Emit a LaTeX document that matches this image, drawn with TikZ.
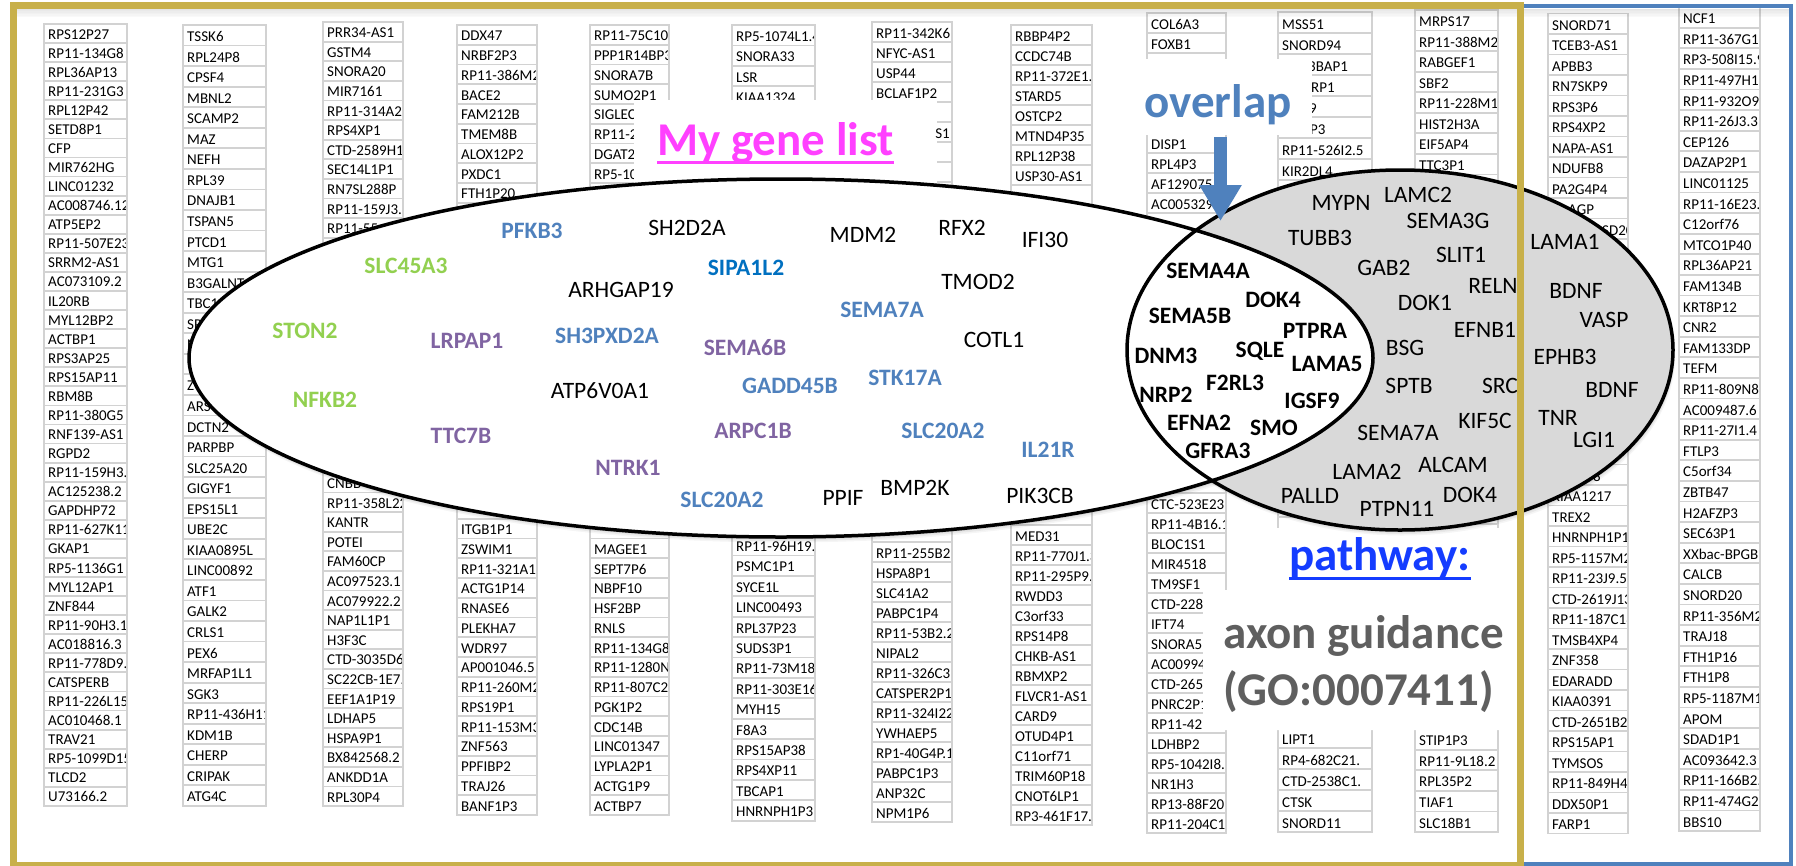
\documentclass[tikz,border=0pt]{standalone}
\usepackage{fontspec}
\setmainfont{Carlito}
\usetikzlibrary{arrows.meta}

\definecolor{goldF}{RGB}{200,176,74}
\definecolor{blueF}{RGB}{79,129,189}
\definecolor{cellG}{RGB}{210,210,210}
\definecolor{ellG}{RGB}{217,217,217}
\definecolor{greenT}{RGB}{146,208,80}
\definecolor{purpT}{RGB}{128,100,162}
\definecolor{blueT}{RGB}{79,129,189}
\definecolor{sipaT}{RGB}{0,112,192}
\definecolor{magT}{RGB}{255,64,255}
\definecolor{pathT}{RGB}{20,60,255}
\definecolor{axonT}{RGB}{95,95,95}

\tikzset{
  cellbox/.style={draw=cellG, line width=1.8pt},
  celltext/.style={anchor=base west, inner sep=0pt, font=\fontsize{15}{18}\selectfont},
  gene/.style={anchor=base, inner sep=0pt, font=\fontsize{23.5}{28}\selectfont},
  bgene/.style={anchor=base, inner sep=0pt, font=\fontsize{23.5}{28}\selectfont\bfseries},
  headline/.style={anchor=base west, inner sep=0pt, font=\fontsize{47}{56}\selectfont\bfseries},
  cover/.style={fill=white},
  ringline/.style={draw=black, line width=3.5pt},
}

% one spreadsheet column: id, left x, right x, top y, row pitch, entries
\newcommand{\genecol}[6]{%
  \foreach \g [count=\k from 0] in {#6} {
    \draw[cellbox] (#2,{#4+\k*#5}) rectangle (#3,{#4+(\k+1)*#5});
  }
  \begin{scope}
    \clip (#2+1,#4) rectangle (#3-1.2,900);
    \foreach \g [count=\k from 0] in {#6} {
      \node[celltext] (#1r\k) at (#2+4,{#4+(\k+1)*#5-4}) {\g};
    }
  \end{scope}
}

\begin{document}
\begin{tikzpicture}[x=1pt,y=-1pt]
\useasboundingbox (0,0) rectangle (1796,865);
\fill[white] (0,0) rectangle (1796,865);

% ---------------- gene columns ----------------
\genecol{c1}{44}{127}{24}{19.07}{RPS12P27, RP11-134G8, RPL36AP13, RP11-231G3, RPL12P42, SETD8P1, CFP, MIR762HG, LINC01232, AC008746.12, ATP5EP2, RP11-507E23, SRRM2-AS1, AC073109.2, IL20RB, MYL12BP2, ACTBP1, RPS3AP25, RPS15AP11, RBM8B, RP11-380G5, RNF139-AS1, RGPD2, RP11-159H3., AC125238.2, GAPDHP72, RP11-627K11, GKAP1, RP5-1136G1, MYL12AP1, ZNF844, RP11-90H3.1, AC018816.3, RP11-778D9., CATSPERB, RP11-226L15, AC010468.1, TRAV21, RP5-1099D15, TLCD2, U73166.2}

\genecol{c2}{183}{266}{25}{20.55}{TSSK6, RPL24P8, CPSF4, MBNL2, SCAMP2, MAZ, NEFH, RPL39, DNAJB1, TSPAN5, PTCD1, MTG1, B3GALNT, TBC1, SP, N, {}, Z, ARS, DCTN2, PARPBP, SLC25A20, GIGYF1, EPS15L1, UBE2C, KIAA0895L, LINC00892, ATF1, GALK2, CRLS1, PEX6, MRFAP1L1, SGK3, RP11-436H11, KDM1B, CHERP, CRIPAK, ATG4C}

\genecol{c3}{323}{403}{22}{19.6}{PRR34-AS1, GSTM4, SNORA20, MIR7161, RP11-314A20, RPS4XP1, CTD-2589H19, SEC14L1P1, RN7SL288P, RP11-159J3.1, RP11-55, {}, {}, {}, {}, {}, {}, {}, {}, {}, {}, {}, {}, CNBB, RP11-358L22, KANTR, POTEI, FAM60CP, AC097523.1, AC079922.2, NAP1L1P1, H3F3C, CTD-3035D6., SC22CB-1E7., EEF1A1P19, LDHAP5, HSPA9P1, BX842568.2, ANKDD1A, RPL30P4}

\genecol{c4}{457}{537}{25}{19.75}{DDX47, NRBF2P3, RP11-386M2, BACE2, FAM212B, TMEM8B, ALOX12P2, PXDC1, FTH1P20, {}, {}, {}, {}, {}, {}, {}, {}, {}, {}, {}, {}, {}, {}, {}, {}, ITGB1P1, ZSWIM1, RP11-321A17, ACTG1P14, RNASE6, PLEKHA7, WDR97, AP001046.5, RP11-260M2, RPS19P1, RP11-153M3, ZNF563, PPFIBP2, TRAJ26, BANF1P3}

\genecol{c5}{590}{669}{25}{19.75}{RP11-75C10., PPP1R14BP3, SNORA7B, SUMO2P1, SIGLEC, RP11-2, DGAT2, RP5-10, {}, {}, {}, {}, {}, {}, {}, {}, {}, {}, {}, {}, {}, {}, {}, {}, {}, {}, MAGEE1, SEPT7P6, NBPF10, HSF2BP, RNLS, RP11-134G8, RP11-1280N, RP11-807C20, PGK1P2, CDC14B, LINC01347, LYPLA2P1, ACTG1P9, ACTBP7}

\genecol{c6}{732}{815}{25}{20.4}{RP5-1074L1.4, SNORA33, LSR, KIAA1324, {}, {}, {}, {}, {}, {}, {}, {}, {}, {}, {}, {}, {}, {}, {}, {}, {}, {}, {}, {}, {}, RP11-96H19., PSMC1P1, SYCE1L, LINC00493, RPL37P23, SUDS3P1, RP11-73M18, RP11-303E16, MYH15, F8A3, RPS15AP38, RPS4XP11, TBCAP1, HNRNPH1P3}

\genecol{c7}{872}{952}{22}{20}{RP11-342K6., NFYC-AS1, USP44, BCLAF1P2, {}, {}, {}, {}, {}, {}, {}, {}, {}, {}, {}, {}, {}, {}, {}, {}, {}, {}, {}, {}, {}, {}, RP11-255B23, HSPA8P1, SLC41A2, PABPC1P4, RP11-53B2.2, NIPAL2, RP11-326C3., CATSPER2P1, RP11-324I22, YWHAEP5, RP1-40G4P.1, PABPC1P3, ANP32C, NPM1P6}

\genecol{c8}{1011}{1092}{25}{20}{RBBP4P2, CCDC74B, RP11-372E1., STARD5, OSTCP2, MTND4P35, RPL12P38, USP30-AS1, {}, {}, {}, {}, {}, {}, {}, {}, {}, {}, {}, {}, {}, {}, {}, {}, {}, MED31, RP11-770J1.3, RP11-295P9., RWDD3, C3orf33, RPS14P8, CHKB-AS1, RBMXP2, FLVCR1-AS1, CARD9, OTUD4P1, C11orf71, TRIM60P18, CNOT6LP1, RP3-461F17.}

\genecol{c9}{1147}{1226}{13}{20}{COL6A3, FOXB1, {}, {}, {}, {}, DISP1, RPL4P3, AF129075, AC005329., {}, {}, {}, {}, {}, {}, {}, {}, {}, {}, {}, {}, {}, {}, CTC-523E23., RP11-4B16.1, BLOC1S1, MIR4518, TM9SF1, CTD-2287, IFT74, SNORA5, AC00994, CTD-265, PNRC2P1, RP11-42, LDHBP2, RP5-1042I8.7, NR1H3, RP13-88F20., RP11-204C16}

\genecol{c10}{1278}{1372}{12}{21.03}{MSS51, SNORD94, {}, {}, {}, {}, RP11-526I2.5, KIR2DL4, {}, {}, {}, {}, {}, {}, {}, {}, {}, {}, {}, {}, {}, {}, {}, {}, {}, {}, {}, {}, {}, {}, {}, {}, {}, {}, LIPT1, RP4-682C21., CTD-2538C1., CTSK, SNORD11}

\genecol{c11}{1415}{1498}{10}{20.55}{MRPS17, RP11-388M2, RABGEF1, SBF2, RP11-228M1, HIST2H3A, EIF5AP4, TTC3P1, {}, {}, {}, {}, {}, {}, {}, {}, {}, {}, {}, {}, {}, {}, {}, {}, {}, {}, {}, {}, {}, {}, {}, {}, {}, {}, {}, STIP1P3, RP11-9L18.2, RPL35P2, TIAF1, SLC18B1}

\genecol{c12}{1548}{1628}{13.5}{20.5}{SNORD71, TCEB3-AS1, APBB3, RN7SKP9, RPS3P6, RPS4XP2, NAPA-AS1, NDUFB8, PA2G4P4, {\hspace{16pt}AGP}, {\hspace{50pt}SD20}, {}, {}, {}, {}, {}, {}, {}, {}, {}, {}, {}, {\hspace{41pt}8}, KIAA1217, TREX2, HNRNPH1P1, RP5-1157M2, RP11-23J9.5, CTD-2619J13, RP11-187C18, TMSB4XP4, ZNF358, EDARADD, KIAA0391, CTD-2651B20, RPS15AP1, TYMSOS, RP11-849H4., DDX50P1, FARP1}

\genecol{c13}{1679}{1760}{7}{20.6}{NCF1, RP11-367G1, RP3-508I15.9, RP11-497H17, RP11-932O9, RP11-26J3.3, CEP126, DAZAP2P1, LINC01125, RP11-16E23., C12orf76, MTCO1P40, RPL36AP21, FAM134B, KRT8P12, CNR2, FAM133DP, TEFM, RP11-809N8, AC009487.6, RP11-27I1.4, FTLP3, C5orf34, ZBTB47, H2AFZP3, SEC63P1, XXbac-BPGB, CALCB, SNORD20, RP11-356M2, TRAJ18, FTH1P16, FTH1P8, RP5-1187M1, APOM, SDAD1P1, AC093642.3, RP11-166B2., RP11-474G2., BBS10}

% ---------------- white boxes behind the headings ----------------
\fill[cover] (634,100) rectangle (937,200);
\fill[cover] (1143,59) rectangle (1312,135);
\fill[cover] (1235,528) -- (1512,528) -- (1512,730) -- (1203,730) -- (1203,590) -- (1235,590) -- cycle;

% cell text left visible beside the boxes
\node[celltext, anchor=base east] (c7frag) at (950,138) {S1};
\begin{scope}
  \clip (1312,50) rectangle (1370,140);
  \node[celltext] (c10fa) at (1308,71.1) {3BAP1};
  \node[celltext] (c10fb) at (1311,92.1) {RP1};
  \node[celltext] (c10fc) at (1309,113.2) {9};
  \node[celltext] (c10fd) at (1310,134.2) {P3};
\end{scope}

% headings
\node[headline, text=magT] (mylist) at (657,155) {My gene list};
\draw[magT, line width=3pt] ([yshift=-7pt]mylist.base west) -- ([yshift=-7pt]mylist.base east);
\node[headline, text=blueT] (ovl) at (1144,117) {overlap};

% ---------------- the two sets ----------------
\foreach \s/\o in {1/0.07, 2.5/0.06, 4/0.05, 5.5/0.04} {
  \fill[black, opacity=\o] (781+0.4*\s,358+\s) ellipse [x radius=592, y radius=179];
  \fill[black, opacity=\o] (1400+0.4*\s,350+\s) ellipse [x radius=273, y radius=180];
}
\fill[white] (781,358) ellipse [x radius=592, y radius=179];
\fill[ellG] (1400,350) ellipse [x radius=273, y radius=180];
\begin{scope}
  \clip (781,358) ellipse [x radius=592, y radius=179];
  \fill[white] (1400,350) ellipse [x radius=273, y radius=180];
\end{scope}
\draw[ringline] (1400,350) ellipse [x radius=273, y radius=180];
\draw[ringline] (781,358) ellipse [x radius=592, y radius=179];

% gene list
\node[bgene, text=blueT] (pfkb3) at (532,238) {PFKB3};
\node[bgene, text=greenT] (slc45a3) at (406,273) {SLC45A3};
\node[bgene, text=greenT] (ston2) at (305,338) {STON2};
\node[bgene, text=greenT] (nfkb2) at (325,407) {NFKB2};
\node[bgene, text=purpT] (lrpap1) at (467,348) {LRPAP1};
\node[bgene, text=purpT] (ttc7b) at (461,443) {TTC7B};
\node[bgene, text=purpT] (ntrk1) at (628,475) {NTRK1};
\node[bgene, text=blueT] (sh3pxd2a) at (607,343) {SH3PXD2A};
\node[bgene, text=sipaT] (sipa1l2) at (746,275) {SIPA1L2};
\node[bgene, text=blueT] (sema7aw) at (882,317) {SEMA7A};
\node[bgene, text=purpT] (sema6b) at (745,355) {SEMA6B};
\node[bgene, text=blueT] (gadd45b) at (790,393) {GADD45B};
\node[bgene, text=blueT] (stk17a) at (905,385) {STK17A};
\node[bgene, text=purpT] (arpc1b) at (753,438) {ARPC1B};
\node[bgene, text=blueT] (slc20a2a) at (722,507) {SLC20A2};
\node[bgene, text=blueT] (slc20a2b) at (943,438) {SLC20A2};
\node[bgene, text=blueT] (il21r) at (1048,457) {IL21R};
\node[gene] (sh2d2a) at (687,235) {SH2D2A};
\node[gene] (mdm2) at (863,242) {MDM2};
\node[gene] (rfx2) at (962,235) {RFX2};
\node[gene] (ifi30) at (1045,247) {IFI30};
\node[gene] (tmod2) at (978,289) {TMOD2};
\node[gene] (cotl1) at (994,347) {COTL1};
\node[gene] (arhgap19) at (621,297) {ARHGAP19};
\node[gene] (atp6v0a1) at (600,398) {ATP6V0A1};
\node[gene] (ppif) at (843,505) {PPIF};
\node[gene] (bmp2k) at (915,495) {BMP2K};
\node[gene] (pik3cb) at (1040,503) {PIK3CB};

% shared genes
\node[bgene] (sema4a) at (1208,278) {SEMA4A};
\node[bgene] (sema5b) at (1190,323) {SEMA5B};
\node[bgene] (dok4i) at (1273,307) {DOK4};
\node[bgene] (ptpra) at (1315,338) {PTPRA};
\node[bgene] (dnm3) at (1166,363) {DNM3};
\node[bgene] (sqle) at (1260,357) {SQLE};
\node[bgene] (lama5) at (1327,371) {LAMA5};
\node[bgene] (nrp2) at (1166,402) {NRP2};
\node[bgene] (f2rl3) at (1235,390) {F2RL3};
\node[bgene] (igsf9) at (1312,408) {IGSF9};
\node[bgene] (efna2) at (1199,430) {EFNA2};
\node[bgene] (smo) at (1274,435) {SMO};
\node[bgene] (gfra3) at (1218,458) {GFRA3};

% pathway genes
\node[gene] (mypn) at (1341,210) {MYPN};
\node[gene] (lamc2) at (1418,202) {LAMC2};
\node[gene] (sema3g) at (1448,228) {SEMA3G};
\node[gene] (tubb3) at (1320,245) {TUBB3};
\node[gene] (slit1) at (1461,262) {SLIT1};
\node[gene] (gab2) at (1384,275) {GAB2};
\node[gene] (reln) at (1493,293) {RELN};
\node[gene] (dok1) at (1425,310) {DOK1};
\node[gene] (efnb1) at (1485,337) {EFNB1};
\node[gene] (bsg) at (1405,355) {BSG};
\node[gene] (sptb) at (1409,393) {SPTB};
\node[gene] (src) at (1500,393) {SRC};
\node[gene] (kif5c) at (1485,428) {KIF5C};
\node[gene] (sema7ag) at (1398,440) {SEMA7A};
\node[gene] (lama2) at (1367,479) {LAMA2};
\node[gene] (alcam) at (1453,472) {ALCAM};
\node[gene] (palld) at (1310,503) {PALLD};
\node[gene] (ptpn11) at (1397,516) {PTPN11};
\node[gene] (dok4g) at (1470,502) {DOK4};
\node[gene] (lama1) at (1565,249) {LAMA1};
\node[gene] (bdnfa) at (1576,298) {BDNF};
\node[gene] (vasp) at (1604,327) {VASP};
\node[gene] (ephb3) at (1565,364) {EPHB3};
\node[gene] (bdnfb) at (1612,397) {BDNF};
\node[gene] (tnr) at (1558,425) {TNR};
\node[gene] (lgi1) at (1594,447) {LGI1};

% pathway caption
\node[headline, text=pathT] (pathway) at (1289,570) {pathway:};
\draw[pathT, line width=3pt] ([yshift=-8pt]pathway.base west) -- ([yshift=-8pt]pathway.base east);
\node[headline, text=axonT] (axon) at (1223,648) {axon guidance};
\node[headline, text=axonT] (goid) at (1223,705) {(GO:0007411)};

% arrow into the overlap
\coordinate (arrtail) at (1220.5,137);
\coordinate (arrtip) at (1220.5,221);
\draw[draw=blueF, line width=13pt, -{Triangle[width=40pt,length=36pt]}] (arrtail) -- (arrtip);

% ---------------- frames ----------------
\foreach \i in {0,...,5} {
  \fill[black, opacity={0.10-0.015*\i}] (16.5,{8.5+1.4*\i}) rectangle (1516.5,{8.5+1.4*(\i+1)});
  \fill[black, opacity={0.10-0.015*\i}] (1522,{8.5+1.4*\i}) rectangle (1789,{8.5+1.4*(\i+1)});
}
\draw[blueF, line width=4.5pt] (1520,6) rectangle (1791,864);
\draw[goldF, line width=7pt] (13,5) rectangle (1520,865);
\end{tikzpicture}
\end{document}
